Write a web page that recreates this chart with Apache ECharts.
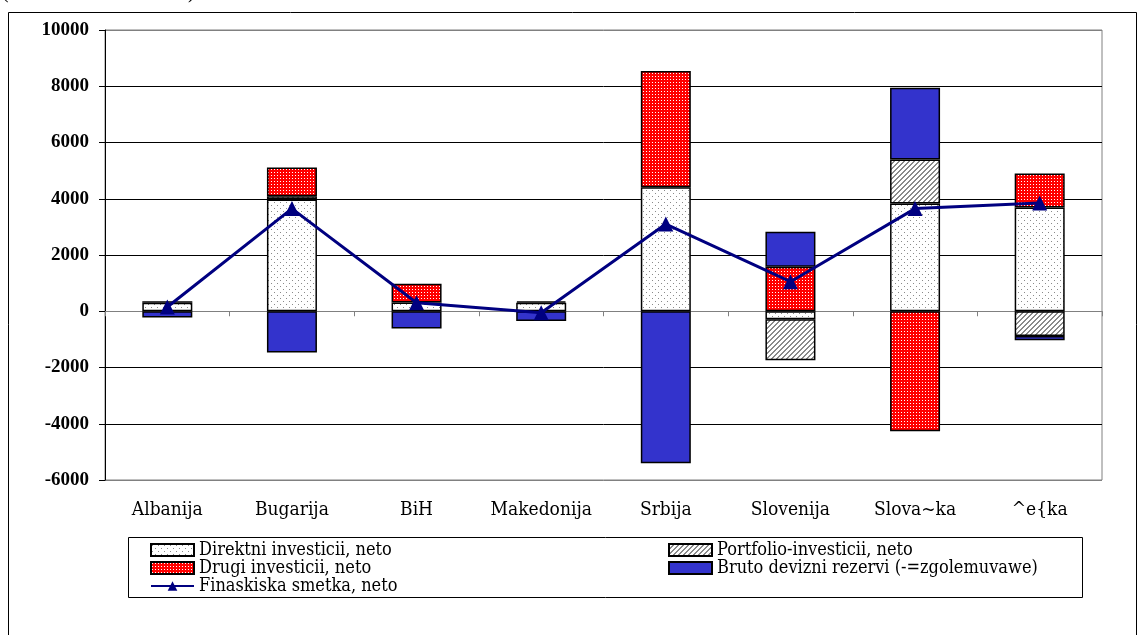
<!DOCTYPE html>
<html>
<head>
<meta charset="utf-8">
<script src="https://cdn.jsdelivr.net/npm/echarts@6/dist/echarts.min.js"></script>
<style>
  html, body { margin: 0; padding: 0; background: #fff; }
  #chart { width: 1139px; height: 635px; }
</style>
</head>
<body>
<div id="chart"></div>
<script>
/* financial account by country, stacked components + net line */

var categories = ['Albanija', 'Bugarija', 'BiH', 'Makedonija', 'Srbija', 'Slovenija', 'Slova~ka', '^e{ka'];

var direktni  = [300, 3970, 310, 300, 4410, -280, 3830, 3690];
var portfolio = ['-', 120, '-', 50, '-', -1460, 1570, -880];
var drugi     = [60, 1020, 670, '-', 4130, 1580, -4270, 1210];
var bruto     = [-220, -1470, -615, -350, -5400, 1250, 2550, -150];
var finansiska = [150, 3650, 300, -50, 3100, 1050, 3650, 3850];

var yTicks = { min: -6000, max: 10000, step: 2000 };

var names = [
  'Direktni investicii, neto',
  'Portfolio-investicii, neto',
  'Drugi investicii, neto',
  'Bruto devizni rezervi (-=zgolemuvawe)',
  'Finaskiska smetka, neto'
];

// small canvas tiles used as fill patterns
function makePattern(w, h, draw) {
  var c = document.createElement('canvas');
  c.width = w; c.height = h;
  var g = c.getContext('2d');
  draw(g);
  return { image: c, repeat: 'repeat' };
}

var dotPattern = makePattern(6, 6, function (g) {
  g.fillStyle = '#ffffff'; g.fillRect(0, 0, 6, 6);
  g.fillStyle = '#8a8a8a';
  g.fillRect(1, 1, 1, 1);
  g.fillRect(4, 4, 1, 1);
});

var hatchPattern = makePattern(5, 5, function (g) {
  g.fillStyle = '#ffffff'; g.fillRect(0, 0, 5, 5);
  g.fillStyle = '#8a8a8a';
  for (var i = 0; i < 5; i++) {
    g.fillRect(4 - i, i, 1, 1);
    g.fillRect((5 - i) % 5, i, 1, 1);
  }
});

var redPattern = makePattern(3, 3, function (g) {
  g.fillStyle = '#ff0000'; g.fillRect(0, 0, 3, 3);
  g.fillStyle = '#ffffff';
  g.fillRect(1, 1, 1, 1);
});

var serif = 'Liberation Serif';
var cond = '"DejaVu Serif Condensed", "DejaVu Serif", serif';

function barSeries(name, data, fill) {
  return {
    name: name,
    type: 'bar',
    stack: 'total',
    data: data,
    barWidth: 50,
    itemStyle: { color: fill, borderColor: '#000', borderWidth: 1.5 },
    emphasis: { disabled: true }
  };
}

var splitColors = ['#808080', '#000', '#000', '#808080', '#000', '#000', '#000', '#000', '#808080'];

var legendText = { fontFamily: cond, fontSize: 18, color: '#000', lineHeight: 18 };

var chart = echarts.init(document.getElementById('chart'), null, { renderer: 'canvas' });

var option = {
  animation: false,
  backgroundColor: '#fff',
  grid: {
    left: 105, right: 37, top: 30, bottom: 155,
    show: true, borderColor: '#808080', borderWidth: 1, backgroundColor: 'transparent'
  },
  legend: [
    {
      orient: 'vertical', left: 150, top: 541, itemGap: 0, padding: 0,
      itemWidth: 43, itemHeight: 12,
      data: [
        { name: names[0], icon: 'rect' },
        { name: names[2], icon: 'rect' },
        { name: names[4] }
      ],
      textStyle: legendText
    },
    {
      orient: 'vertical', left: 668, top: 541, itemGap: 0, padding: 0,
      itemWidth: 43, itemHeight: 12,
      data: [
        { name: names[1], icon: 'rect' },
        { name: names[3], icon: 'rect' }
      ],
      textStyle: legendText
    }
  ],
  xAxis: [
    {
      type: 'category',
      data: categories,
      axisLine: { onZero: true, lineStyle: { color: '#808080', width: 1 } },
      axisTick: { show: true, length: 5, lineStyle: { color: '#808080' } },
      axisLabel: { show: false }
    },
    {
      type: 'category',
      data: categories,
      position: 'bottom',
      axisLine: { show: false, onZero: false },
      axisTick: { show: false },
      axisLabel: { interval: 0, margin: 21, fontFamily: cond, fontSize: 19, color: '#000' }
    }
  ],
  yAxis: {
    type: 'value',
    min: yTicks.min, max: yTicks.max, interval: yTicks.step,
    axisLine: { show: true, lineStyle: { color: '#000', width: 1 } },
    axisTick: { show: true, length: 6, lineStyle: { color: '#000' } },
    axisLabel: {
      margin: 16, fontFamily: serif, fontWeight: 'bold', fontSize: 19, color: '#000',
      formatter: function (v) { return String(v); }
    },
    splitLine: { show: true, lineStyle: { color: splitColors, width: 1 } }
  },
  series: [
    barSeries(names[0], direktni, dotPattern),
    barSeries(names[1], portfolio, hatchPattern),
    barSeries(names[2], drugi, redPattern),
    barSeries(names[3], bruto, '#3333cc'),
    {
      name: names[4],
      type: 'line',
      data: finansiska,
      z: 5,
      symbol: 'triangle',
      symbolSize: 15,
      lineStyle: { color: '#000080', width: 3 },
      itemStyle: { color: '#000080' },
      emphasis: { disabled: true }
    }
  ],
  graphic: [
    {
      type: 'rect', silent: true,
      shape: { x: 8.5, y: 12.5, width: 1128, height: 700 },
      style: { fill: 'none', stroke: '#000', lineWidth: 1 }
    },
    {
      type: 'rect', silent: true,
      shape: { x: 128.5, y: 537.5, width: 954, height: 60 },
      style: { fill: 'none', stroke: '#000', lineWidth: 1 }
    },
    {
      type: 'text', silent: true, left: 2, top: -17,
      style: { text: '(vo milioni SAD dolari)', fontFamily: serif, fontSize: 20, fill: '#000' }
    }
  ]
};

chart.setOption(option);
</script>
</body>
</html>
